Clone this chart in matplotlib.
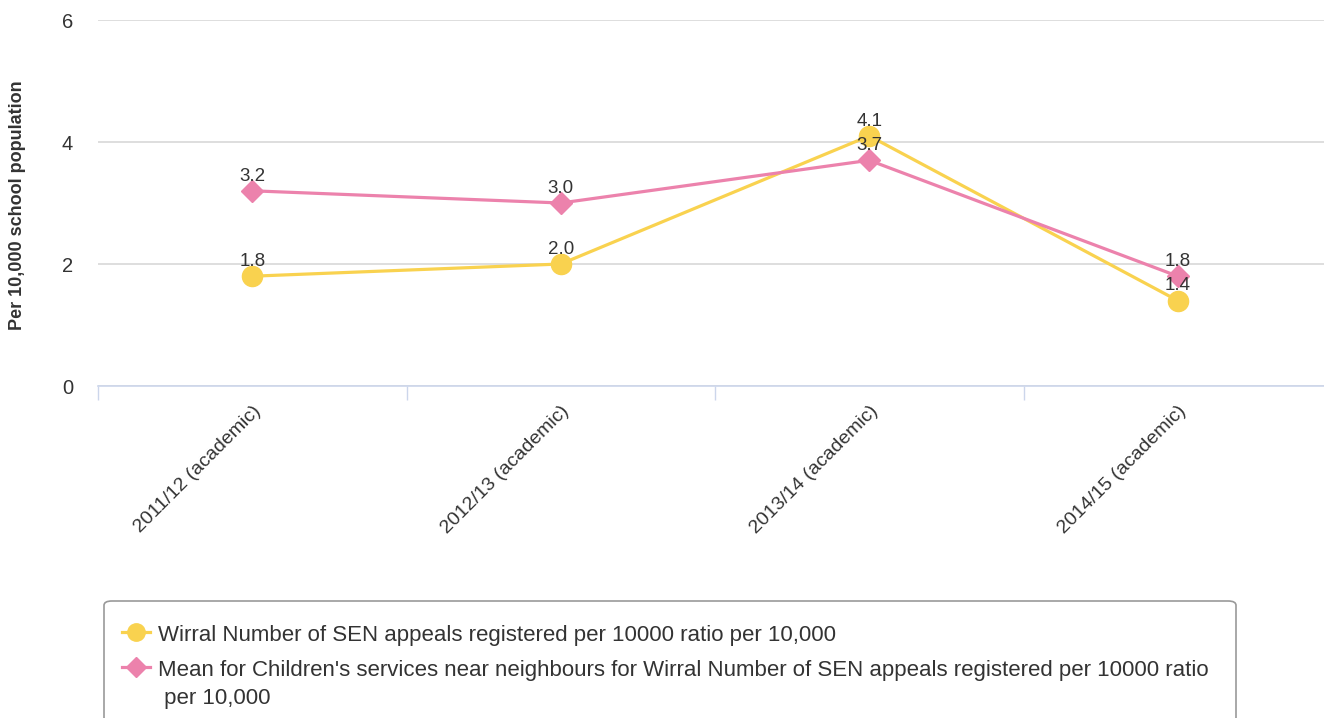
import matplotlib
matplotlib.use("Agg")
import matplotlib.pyplot as plt
from matplotlib.patches import FancyBboxPatch
from matplotlib.lines import Line2D

categories = ["2011/12 (academic)", "2012/13 (academic)", "2013/14 (academic)", "2014/15 (academic)"]
wirral = [1.8, 2.0, 4.1, 1.4]
neighbours = [3.2, 3.0, 3.7, 1.8]
series_names = [
    "Wirral Number of SEN appeals registered per 10000 ratio per 10,000",
    "Mean for Children's services near neighbours for Wirral Number of SEN appeals registered per 10000 ratio\n per 10,000",
]
y_ticks = [0, 2, 4, 6]

YELLOW = "#f9d24f"
PINK = "#ec82ac"
TEXT = "#333333"

plt.rcParams["font.family"] = ["Liberation Sans", "DejaVu Sans"]

W, H = 1324, 718
fig = plt.figure(figsize=(W / 100, H / 100), dpi=100)
ax = fig.add_axes([98 / W, 1 - 386 / H, (1332 - 98) / W, (386 - 20) / H])

x = list(range(len(categories)))
ax.plot(x, wirral, color=YELLOW, lw=2.3, marker="o", ms=14.5, zorder=3)
ax.plot(x, neighbours, color=PINK, lw=2.3, marker="D", ms=11.5, zorder=4)

for series in (wirral, neighbours):
    for xi, v in zip(x, series):
        ax.annotate(f"{v:.1f}", (xi, v), xytext=(0, 4.5), textcoords="offset points",
                    ha="center", va="bottom", fontsize=13.5, color=TEXT, zorder=5)

ax.set_xlim(-0.5, len(categories) - 0.5)
ax.set_ylim(0, 6)
ax.set_yticks(y_ticks)
ax.set_yticklabels([str(t) for t in y_ticks], fontsize=14.5, color=TEXT)
ax.tick_params(axis="y", length=0, pad=18)
ax.yaxis.grid(True, color="#d8d8d8", lw=1.2)
ax.set_axisbelow(True)

ax.set_xticks(x)
ax.set_xticklabels(categories, rotation=45, ha="right", va="top",
                   rotation_mode="anchor", fontsize=14, color=TEXT)
ax.tick_params(axis="x", which="major", length=0, pad=12)
ax.set_xticks([i - 0.5 for i in range(len(categories) + 1)], minor=True)
ax.tick_params(axis="x", which="minor", length=10, color="#ccd6eb", width=1)

for s in ["top", "right", "left"]:
    ax.spines[s].set_visible(False)
ax.spines["bottom"].set_color("#ccd6eb")
ax.spines["bottom"].set_linewidth(1.2)

fig.text(18 / W, 1 - 205 / H, "Per 10,000 school population", rotation=90,
         ha="center", va="center", fontsize=13, fontweight="bold", color=TEXT)

# legend box
box = FancyBboxPatch((104 / W, 1 - 722 / H), (1236 - 104) / W, (722 - 601) / H,
                     boxstyle="round,pad=0,rounding_size=0.006", transform=fig.transFigure,
                     facecolor="white", edgecolor="#999999", lw=1.2)
fig.patches.append(box)
legend_rows = [(632, YELLOW, "o", 12.5, series_names[0]), (667, PINK, "D", 10, series_names[1])]
for yy, col, mk, ms, name in legend_rows:
    fig.lines.append(Line2D([122 / W, 150 / W], [1 - yy / H] * 2, transform=fig.transFigure,
                            color=col, lw=2.3, zorder=3))
    fig.lines.append(Line2D([136 / W], [1 - yy / H], transform=fig.transFigure,
                            color=col, marker=mk, ms=ms, zorder=4))
    for k, line in enumerate(name.split("\n")):
        fig.text(158 / W, 1 - (yy + 9 + 28 * k) / H, line, ha="left", va="baseline",
                 fontsize=16, color=TEXT)

fig.savefig("out.png", dpi=100)
